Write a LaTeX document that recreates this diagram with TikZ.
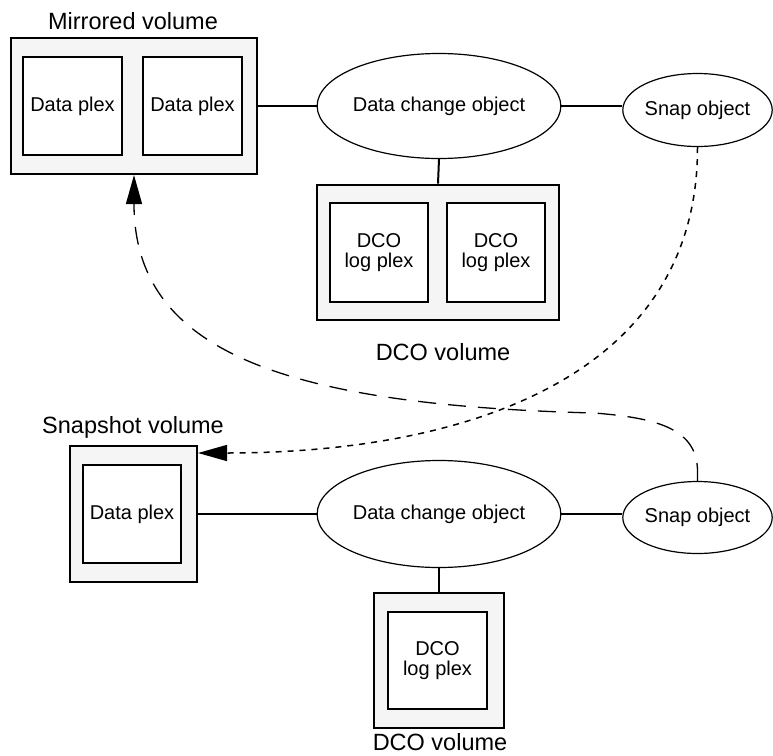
\documentclass[tikz,border=0pt]{standalone}
\usepackage{fontspec}
\setmainfont{Liberation Sans}
\usetikzlibrary{arrows.meta,shapes.geometric}
\definecolor{volfill}{HTML}{F5F5F5}
\tikzset{
  volbox/.style={draw=black, line width=2.6pt, fill=volfill, rectangle, inner sep=0pt},
  plexbox/.style={draw=black, line width=2.4pt, fill=white, rectangle, inner sep=0pt,
    align=center, font=\fontsize{20}{20}\selectfont},
  obj/.style={draw=black, line width=1.2pt, fill=white, ellipse, inner sep=0pt,
    font=\fontsize{20}{22}\selectfont},
  vollabel/.style={inner sep=0pt, font=\fontsize{23.5}{26}\selectfont},
  conn/.style={line width=2pt},
  dasharrow/.style={line width=1.3pt, dash pattern=on 18pt off 12pt, -{Triangle[length=29pt,width=16pt]}},
  dotarrow/.style={line width=1.5pt, dash pattern=on 6pt off 6pt, -{Triangle[length=29pt,width=16pt]}}
}
\begin{document}
\begin{tikzpicture}[x=1pt,y=-1pt]
\useasboundingbox (0,0) rectangle (773,755);

% ---------- top group ----------
\node[volbox, minimum width=246pt, minimum height=136pt] (mv) at (134,106) {};
\node[plexbox, minimum width=99pt, minimum height=98pt] (mp1) at (72.5,106) {Data plex};
\node[plexbox, minimum width=99pt, minimum height=98pt] (mp2) at (192.5,106) {Data plex};
\node[vollabel] (mvl) at (133,21) {Mirrored volume};

\node[obj, minimum width=222pt, minimum height=105pt] (dco1) at (439,106) {Data change object};
\node[obj, minimum width=149pt, minimum height=73pt] (snap1) at (697.5,110) {Snap object};

\node[volbox, minimum width=242pt, minimum height=135pt] (dv1) at (438,252.5) {};
\node[plexbox, minimum width=98pt, minimum height=99pt] (dp1) at (379,252.5) {DCO\\log plex};
\node[plexbox, minimum width=98pt, minimum height=99pt] (dp2) at (496,252.5) {DCO\\log plex};
\node[vollabel] (dv1l) at (443,352) {DCO volume};

\draw[conn] (mv.east) -- (dco1.west);
\draw[conn] (dco1.east) -- (dco1.east -| snap1.west);
\draw[conn] (dco1.south) -- (dv1.north);

% ---------- bottom group ----------
\node[volbox, minimum width=127pt, minimum height=136pt] (sv) at (133.5,514) {};
\node[plexbox, minimum width=98pt, minimum height=98pt] (sp) at (132,514) {Data plex};
\node[vollabel] (svl) at (133,427) {Snapshot volume};

\node[obj, minimum width=221pt, minimum height=107pt] (dco2) at (439,514) {Data change object};
\node[obj, minimum width=149pt, minimum height=72pt] (snap2) at (697.5,517.5) {Snap object};

\node[volbox, minimum width=130pt, minimum height=135pt] (dv2) at (439,660.5) {};
\node[plexbox, minimum width=99pt, minimum height=97pt] (dp3) at (437.5,660.5) {DCO\\log plex};
\node[vollabel] (dv2l) at (440,742) {DCO volume};

\draw[conn] (sv.east) -- (dco2.west);
\draw[conn] (dco2.east) -- (dco2.east -| snap2.west);
\draw[conn] (dco2.south) -- (dv2.north);

% ---------- cross arrows ----------
\coordinate (svin) at (198,453);
\coordinate (mvin) at (134,175);
\draw[dotarrow] (snap1.south) .. controls (698,380) and (460,453) .. (svin);
\draw[dasharrow] (snap2.north) -- ++(0,-10) .. controls (697,430) and (660,418) .. (594,413)
  .. controls (280,405) and (134,350) .. (mvin);
\end{tikzpicture}
\end{document}
